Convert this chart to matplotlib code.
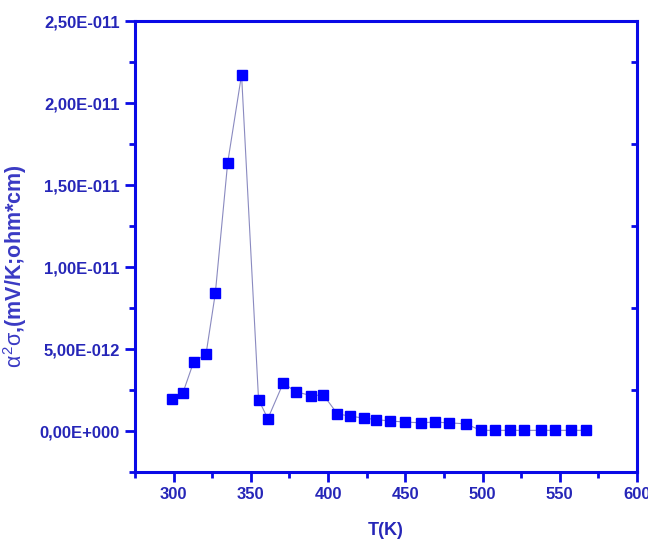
import matplotlib
matplotlib.use("Agg")
import matplotlib.pyplot as plt
from matplotlib.ticker import MultipleLocator, FuncFormatter

# temperature (K) and alpha^2*sigma values (x 1e-12)
temps = [299, 306, 313, 321, 327, 335, 344, 355, 361, 371, 379, 389, 397, 406,
         414, 423, 431, 440, 450, 460, 469, 478, 489, 499, 508, 518, 527, 538,
         547, 557, 567]
power_e12 = [1.96, 2.32, 4.22, 4.69, 8.39, 16.35, 21.73, 1.92, 0.75, 2.93, 2.40,
             2.16, 2.20, 1.05, 0.91, 0.79, 0.70, 0.61, 0.55, 0.50, 0.55, 0.50,
             0.44, 0.04, 0.04, 0.04, 0.04, 0.04, 0.04, 0.04, 0.04]
power = [v * 1e-12 for v in power_e12]

AXIS_BLUE = '#0a0ae6'
TEXT_BLUE = '#2626b8'

plt.rcParams['font.family'] = ['Liberation Sans', 'DejaVu Sans']
plt.rcParams['mathtext.fontset'] = 'custom'
plt.rcParams['mathtext.rm'] = 'Liberation Sans'
plt.rcParams['mathtext.it'] = 'Liberation Sans'
plt.rcParams['mathtext.bf'] = 'Liberation Sans:bold'


def origin_fmt(v, pos):
    # Origin style labels: 2,50E-011
    if abs(v) < 1e-20:
        return '0,00E+000'
    mant, exp = ('%.2E' % v).split('E')
    return mant.replace('.', ',') + 'E' + exp[0] + '%03d' % int(exp[1:])


fig = plt.figure(figsize=(6.48, 5.45), dpi=100)
ax = fig.add_axes([0.2083, 0.1339, 0.7747, 0.8275])

ax.plot(temps, power, color='#8a8ac0', lw=0.8, marker='s', markersize=7,
        markerfacecolor='#0000ff', markeredgecolor='#0000ff', zorder=3)

ax.set_xlim(275, 600)
ax.set_ylim(-2.5e-12, 2.5e-11)

ax.xaxis.set_major_locator(MultipleLocator(50))
ax.xaxis.set_minor_locator(MultipleLocator(25))
ax.yaxis.set_major_locator(MultipleLocator(5e-12))
ax.yaxis.set_minor_locator(MultipleLocator(2.5e-12))
ax.yaxis.set_major_formatter(FuncFormatter(origin_fmt))

for sp in ax.spines.values():
    sp.set_color(AXIS_BLUE)
    sp.set_linewidth(2.2)

ax.tick_params(which='major', direction='out', length=7, width=2, color=AXIS_BLUE,
               labelsize=12, labelcolor=TEXT_BLUE, pad=4)
ax.tick_params(which='minor', direction='out', length=4, width=2, color=AXIS_BLUE)
ax.tick_params(which='both', top=False, right=False)
for lab in ax.get_xticklabels() + ax.get_yticklabels():
    lab.set_fontweight('bold')

# right side only has short inward ticks between the major values
ax2 = ax.twinx()
ax2.set_ylim(ax.get_ylim())
ax2.set_yticks([])
ax2.set_yticks([2.25e-11, 1.75e-11, 1.25e-11, 0.75e-11, 0.25e-11], minor=True)
ax2.tick_params(which='minor', direction='in', length=4, width=2, color=AXIS_BLUE,
                labelright=False)
for sp in ax2.spines.values():
    sp.set_visible(False)

ax.set_xlabel('T(K)', fontsize=13, fontweight='bold', color=TEXT_BLUE, labelpad=14)
ax.set_ylabel(r'$\alpha^{2}\sigma$,(mV/K;ohm*cm)', fontsize=15.5, fontweight='bold',
              color='#3a3ac4')
ax.yaxis.set_label_coords(-0.211, 0.456)

fig.savefig('out.png', dpi=100)
